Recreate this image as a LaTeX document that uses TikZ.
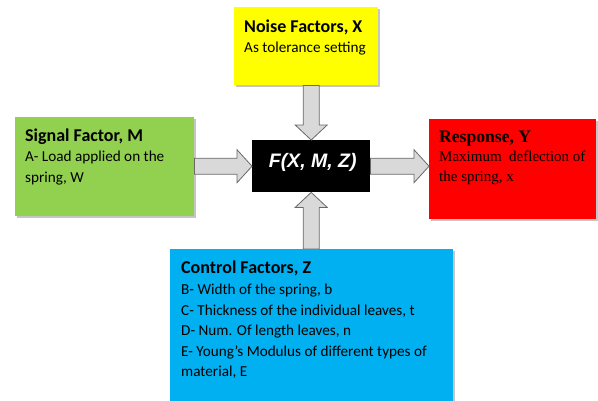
\documentclass[tikz,border=0pt]{standalone}
\usepackage{fontspec}
\setmainfont{Carlito}
\newfontfamily\timesf{Liberation Serif}
\newfontfamily\arialf{Liberation Sans}
\usetikzlibrary{calc,shadows}
\definecolor{noisey}{RGB}{255,255,0}
\definecolor{sigg}{RGB}{146,208,80}
\definecolor{respr}{RGB}{255,0,0}
\definecolor{ctrlb}{RGB}{0,176,240}
\definecolor{arrfill}{RGB}{217,217,217}
\definecolor{arrline}{RGB}{105,105,105}
\newcommand\harr[3]{\draw[barrow] ($(#1)+(0,-8)$) -- ($(#2)+({-15*#3},-8)$) -- ($(#2)+({-15*#3},-16.5)$) -- (#2) -- ($(#2)+({-15*#3},16.5)$) -- ($(#2)+({-15*#3},8)$) -- ($(#1)+(0,8)$) -- cycle;}
\newcommand\varr[3]{\draw[barrow] ($(#1)+(-8,0)$) -- ($(#2)+(-8,{-15*#3})$) -- ($(#2)+(-16,{-15*#3})$) -- (#2) -- ($(#2)+(16,{-15*#3})$) -- ($(#2)+(8,{-15*#3})$) -- ($(#1)+(8,0)$) -- cycle;}
\begin{document}
\begin{tikzpicture}[x=1pt,y=-1pt,
  panel/.style={rectangle, draw=none, inner sep=0pt, anchor=north west,
    drop shadow={shadow xshift=1.5pt, shadow yshift=-2pt, opacity=0.5, fill=black!45}},
  paneltext/.style={anchor=north west, inner sep=0pt, align=left,
    font=\fontsize{15.2}{20.5}\selectfont},
  barrow/.style={fill=arrfill, draw=arrline, line width=0.8pt, line join=miter}]
\useasboundingbox (0,0) rectangle (598,400);
\fill[white] (0,0) rectangle (598,400);
% boxes
\node[panel, fill=noisey, minimum width=144pt, minimum height=78pt] (noise) at (234,7) {};
\node[panel, fill=sigg, minimum width=179pt, minimum height=99pt] (sig) at (15,117) {};
\node[panel, fill=respr, minimum width=167pt, minimum height=100pt] (resp) at (429,119) {};
\node[panel, fill=ctrlb, minimum width=283pt, minimum height=153pt] (ctrl) at (170,249) {};
\node[rectangle, fill=black, inner sep=0pt, anchor=north west, minimum width=118pt, minimum height=52pt] (fbox) at (252,140) {};
% texts
\node[paneltext] (noiset) at (244,19) {\rule{0pt}{13pt}{\fontsize{18}{20.5}\selectfont\bfseries Noise Factors, X}\\ As tolerance setting};
\node[paneltext] (sigt) at (25,128) {\rule{0pt}{13pt}{\fontsize{18}{20.5}\selectfont\bfseries Signal Factor, M}\\ A- Load applied on the\\ spring, W};
\node[paneltext] (ctrlt) at (181,260) {\rule{0pt}{13pt}{\fontsize{18}{20.5}\selectfont\bfseries Control Factors, Z}\\[1pt] B- Width of the spring, b\\ C- Thickness of the individual leaves, t\\ D- Num. Of length leaves, n\\ E- Young’s Modulus of different types of\\ material, E};
\node[paneltext, font=\timesf\fontsize{15}{19.5}\selectfont] (respt) at (439,129) {\rule{0pt}{13pt}{\fontsize{17.6}{20.5}\selectfont\bfseries Response, Y}\\ Maximum\ \ deflection of\\ the spring, x};
\node[anchor=base, inner sep=0pt, text=white, font=\arialf\bfseries\itshape\fontsize{19.5}{22}\selectfont] (ft) at ($(fbox.center)+(1.5,1)$) {F(X, M, Z)};
% arrows
\coordinate (l0) at (sig.east |- fbox.west);
\coordinate (r1) at (resp.west |- fbox.east);
\coordinate (d0) at (fbox.north |- noise.south);
\coordinate (u0) at (fbox.south |- ctrl.north);
\harr{l0}{fbox.west}{1}
\harr{fbox.east}{r1}{1}
\varr{d0}{fbox.north}{1}
\varr{u0}{fbox.south}{-1}
\end{tikzpicture}
\end{document}
